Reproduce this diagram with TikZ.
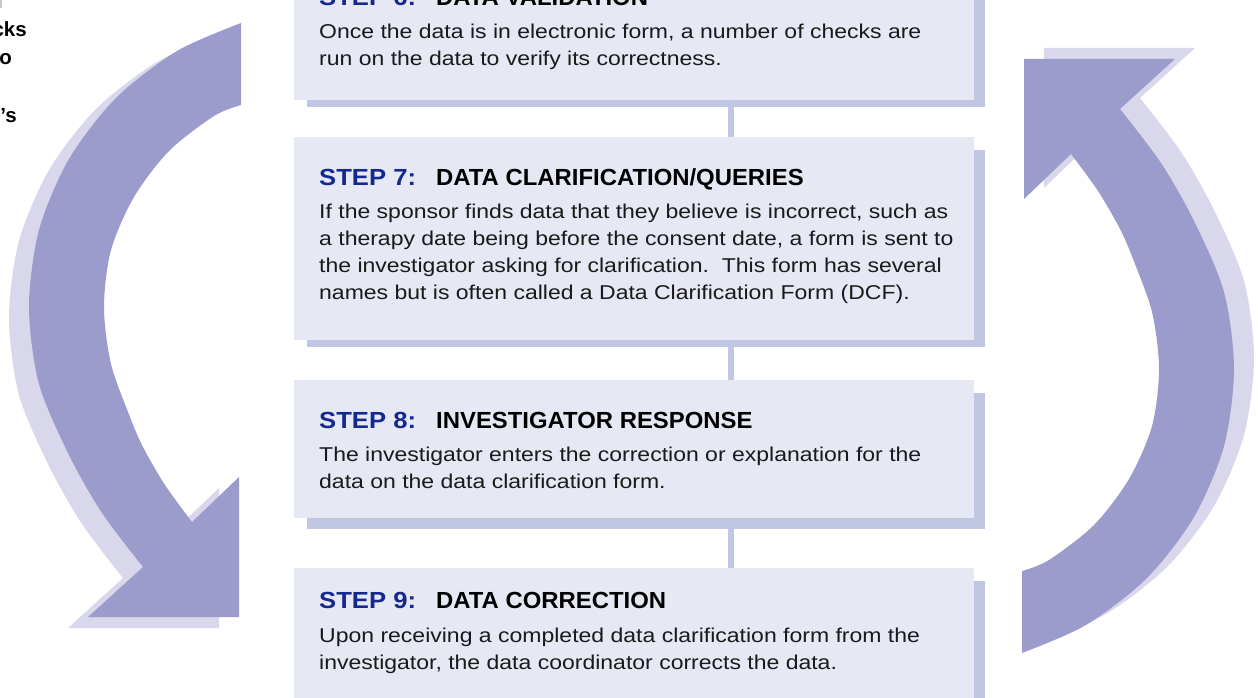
\documentclass[tikz,border=0pt]{standalone}
\usepackage{fontspec}
\setmainfont{Liberation Sans}
\newfontfamily\bodyfont[FakeStretch=1.15]{Liberation Sans}
\newfontfamily\stepfont[FakeStretch=1.1]{Liberation Sans}
\newfontfamily\titlefont[FakeStretch=1.025]{Liberation Sans}

\definecolor{boxfill}{HTML}{E6E8F4}
\definecolor{shadefill}{HTML}{C1C7E2}
\definecolor{arrowfill}{HTML}{9B9BCC}
\definecolor{arrowshadow}{HTML}{D8D7EB}
\definecolor{stepblue}{HTML}{14288E}
\definecolor{bodytext}{HTML}{1A1A1A}
\definecolor{edgemark}{HTML}{C8C8C8}

\tikzset{
  stepbox/.style={fill=boxfill, draw=none, minimum width=680pt, anchor=north west,
    inner sep=0pt, outer sep=0pt},
  boxshade/.style={fill=shadefill},
  link/.style={draw=shadefill, line width=6pt},
  steplabel/.style={anchor=base west, inner sep=0pt, text=stepblue,
    font=\stepfont\bfseries\fontsize{23.3}{28}\selectfont},
  steptitle/.style={anchor=base west, inner sep=0pt, text=black,
    font=\titlefont\bfseries\fontsize{23.3}{28}\selectfont},
  % anchored at the baseline of the last line
  stepbody/.style={anchor=base west, inner sep=0pt, align=left, text=bodytext,
    font=\bodyfont\fontsize{20}{27}\selectfont},
  sidetext/.style={anchor=base east, inner sep=0pt, text=black,
    font=\bfseries\fontsize{20.5}{28}\selectfont},
  arrowbody/.style={fill=arrowfill},
  arrowshade/.style={fill=arrowshadow},
}

% one curved arrow of the cycle: shaft running down the left side, head pointing down-right
\newcommand{\cyclearrow}[1]{%
  \fill[#1] plot[smooth] coordinates {(241,23) (177,51) (116,98) (69,159) (39,230)
      (29,307) (39,384) (69,455) (102,513) (143,567)}
    -- (88,617) -- (239,617) -- (239,477)
    -- plot[smooth] coordinates {(192,522) (165,485) (143,447) (130,417) (111,364)
      (104,307) (111,250) (134,197) (169,151) (214,116) (241,105)}
    -- cycle;}

% the arrow with its shadow; the shadow's cut end stays hidden under the shaft
\newcommand{\shadedarrow}{%
  \begin{scope}
    \clip (-100,-100) -- (200,-100) -- (200,300) -- (400,300) -- (400,1000)
      -- (-100,1000) -- cycle;
    \begin{scope}[shift={(-20,11)}]
      \cyclearrow{arrowshade}
    \end{scope}
  \end{scope}
  \cyclearrow{arrowbody}}

% shadow bands on the right and bottom of a step box
\newcommand{\boxbands}[2]{%
  \fill[boxshade] ([shift={(0,13)}]#1.north east) rectangle ([shift={(11,#2)}]#1.south east);
  \fill[boxshade] ([shift={(13,0)}]#1.south west) rectangle ([shift={(0,#2)}]#1.south east);}

\begin{document}
\begin{tikzpicture}[x=1pt,y=-1pt]
\useasboundingbox (0,0) rectangle (1258,698);
\clip (0,0) rectangle (1258,698);

% left arrow (downwards)
\shadedarrow

% right arrow (upwards): the same arrow turned half a turn
\begin{scope}[rotate around={180:(631.5,338)}]
  \shadedarrow
\end{scope}

% step boxes
\node[stepbox, minimum height=142pt] (box6) at (294,-42) {};
\node[stepbox, minimum height=203pt] (box7) at (294,137) {};
\node[stepbox, minimum height=138pt] (box8) at (294,380) {};
\node[stepbox, minimum height=180pt] (box9) at (294,568) {};

\boxbands{box6}{7}
\boxbands{box7}{7}
\boxbands{box8}{11}
\boxbands{box9}{7}

% connectors between the boxes
\coordinate (spine) at (731,0);
\draw[link] (box6.south -| spine) -- (box7.north -| spine);
\draw[link] (box7.south -| spine) -- (box8.north -| spine);
\draw[link] (box8.south -| spine) -- (box9.north -| spine);

% step 6
\node[steplabel] (s6) at (319,6) {STEP 6:};
\node[steptitle] (t6) at (436,6) {DATA VALIDATION};
\node[stepbody] (b6) at (319,66) {Once the data is in electronic form, a number of checks are\\
  run on the data to verify its correctness.};

% step 7
\node[steplabel] (s7) at (319,185) {STEP 7:};
\node[steptitle] (t7) at (436,185) {DATA CLARIFICATION/QUERIES};
\node[stepbody] (b7) at (319,299) {If the sponsor finds data that they believe is incorrect, such as\\
  a therapy date being before the consent date, a form is sent to\\
  the investigator asking for clarification.\ \ This form has several\\
  names but is often called a Data Clarification Form (DCF).};

% step 8
\node[steplabel] (s8) at (319,428) {STEP 8:};
\node[steptitle] (t8) at (436,428) {INVESTIGATOR RESPONSE};
\node[stepbody] (b8) at (319,488) {The investigator enters the correction or explanation for the\\
  data on the data clarification form.};

% step 9
\node[steplabel] (s9) at (319,608) {STEP 9:};
\node[steptitle] (t9) at (436,608) {DATA CORRECTION};
\node[stepbody] (b9) at (319,669) {Upon receiving a completed data clarification form from the\\
  investigator, the data coordinator corrects the data.};

% text running in from the neighbouring panel
\node[sidetext] (w1) at (27,37) {cks};
\node[sidetext] (w2) at (12,65) {o};
\node[sidetext] (w3) at (17,123) {’s};
\fill[edgemark] (0,0) rectangle (1.5,8);
\end{tikzpicture}
\end{document}
